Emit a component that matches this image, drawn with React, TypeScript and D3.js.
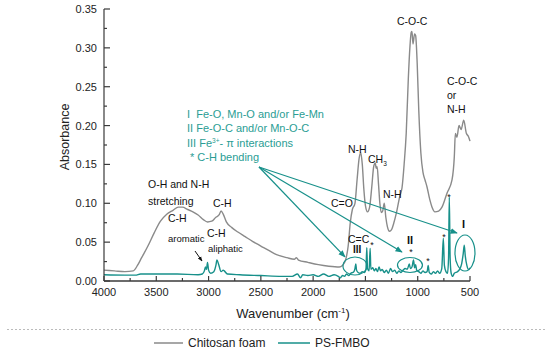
import * as d3 from 'd3'

// FTIR spectra, wavenumber (cm-1) vs absorbance
const chitosanWn = [
  4000, 3900, 3800, 3720, 3680, 3640, 3580, 3520, 3460, 3400, 3340, 3290, 3250, 3200, 3150, 3100, 3050,
  3010, 2970, 2930, 2900, 2880, 2860, 2830, 2780, 2720, 2650, 2580, 2500, 2420, 2350, 2250, 2180, 2160,
  2140, 2050, 1950, 1850, 1750, 1720, 1690, 1665, 1645, 1625, 1600, 1580, 1560, 1545, 1530, 1515, 1500,
  1480, 1460, 1440, 1420, 1405, 1398, 1388, 1375, 1362, 1348, 1335, 1320, 1305, 1290, 1270, 1250, 1230,
  1200, 1170, 1150, 1130, 1110, 1090, 1075, 1062, 1055, 1045, 1030, 1020, 1005, 990, 970, 950, 930, 911,
  885, 863, 835, 800, 768, 720, 672, 650, 640, 625, 605, 585, 560, 535, 515, 500,
]
const chitosanAbs = [
  0.014, 0.013, 0.012, 0.013, 0.02, 0.03, 0.045, 0.062, 0.077, 0.086, 0.091, 0.095, 0.095, 0.092, 0.089,
  0.085, 0.079, 0.076, 0.077, 0.082, 0.085, 0.09, 0.086, 0.076, 0.069, 0.063, 0.057, 0.051, 0.045, 0.039,
  0.034, 0.03, 0.028, 0.03, 0.027, 0.024, 0.021, 0.019, 0.018, 0.02, 0.027, 0.045, 0.075, 0.092, 0.1,
  0.13, 0.158, 0.165, 0.15, 0.118, 0.097, 0.089, 0.095, 0.12, 0.148, 0.152, 0.145, 0.147, 0.125, 0.1,
  0.088, 0.09, 0.1, 0.082, 0.07, 0.064, 0.066, 0.074, 0.09, 0.11, 0.12, 0.15, 0.19, 0.26, 0.3, 0.32,
  0.321, 0.305, 0.318, 0.316, 0.28, 0.22, 0.165, 0.14, 0.13, 0.121, 0.105, 0.095, 0.089, 0.09, 0.095,
  0.113, 0.13, 0.16, 0.19, 0.185, 0.2, 0.195, 0.207, 0.19, 0.186, 0.18,
]
const fmboWn = [
  4000, 3800, 3700, 3650, 3500, 3300, 3100, 3060, 3040, 3030, 3020, 3010, 3000, 2980, 2950, 2930, 2920,
  2905, 2880, 2860, 2850, 2820, 2700, 2500, 2300, 2200, 2150, 2120, 2100, 2050, 2000, 1950, 1900, 1850,
  1800, 1760, 1740, 1720, 1700, 1680, 1660, 1640, 1620, 1610, 1600, 1592, 1585, 1570, 1550, 1530, 1510,
  1495, 1487, 1480, 1465, 1455, 1448, 1430, 1415, 1400, 1385, 1370, 1355, 1340, 1320, 1300, 1280, 1260,
  1240, 1220, 1200, 1180, 1160, 1140, 1120, 1100, 1080, 1070, 1055, 1040, 1030, 1020, 1010, 990, 970,
  950, 930, 910, 900, 890, 870, 850, 830, 810, 790, 770, 755, 745, 730, 715, 705, 698, 690, 680, 665, 650,
  620, 600, 580, 565, 555, 545, 530, 515, 500,
]
const fmboAbs = [
  0.008, 0.0075, 0.0075, 0.009, 0.009, 0.009, 0.008, 0.009, 0.013, 0.018, 0.015, 0.024, 0.014, 0.01,
  0.012, 0.02, 0.027, 0.022, 0.012, 0.014, 0.013, 0.009, 0.008, 0.007, 0.006, 0.006, 0.009, 0.004,
  0.008, 0.007, 0.008, 0.006, 0.009, 0.006, 0.008, 0.006, 0.004, 0.007, 0.006, 0.009, 0.007, 0.01,
  0.011, 0.012, 0.016, 0.022, 0.014, 0.011, 0.01, 0.012, 0.011, 0.015, 0.043, 0.016, 0.013, 0.042,
  0.015, 0.017, 0.013, 0.016, 0.012, 0.018, 0.013, 0.015, 0.011, 0.014, 0.01, 0.016, 0.012, 0.014,
  0.01, 0.013, 0.011, 0.014, 0.016, 0.015, 0.022, 0.016, 0.018, 0.027, 0.017, 0.021, 0.014, 0.012,
  0.01, 0.013, 0.011, 0.012, 0.02, 0.011, 0.009, 0.012, 0.01, 0.013, 0.01, 0.016, 0.055, 0.02, 0.012,
  0.01, 0.03, 0.108, 0.03, 0.01, 0.006, 0.01, 0.012, 0.015, 0.022, 0.035, 0.046, 0.032, 0.02, 0.015,
  0.017,
]
const xTicks = [4000, 3500, 3000, 2500, 2000, 1500, 1000, 500]
const yTicks = [0, 0.05, 0.1, 0.15, 0.2, 0.25, 0.3, 0.35]

const TEAL = '#17908a'
const TEAL_TEXT = '#2a9d94'
const GRAY = '#8a8a8a'
const AXIS = '#3a3a3a'
const FONT = '"Liberation Sans", Arial, Helvetica, sans-serif'

const x = d3.scaleLinear().domain([4000, 500]).range([104, 470])
const y = d3.scaleLinear().domain([0, 0.35]).range([281, 9])

function spectrum(wn: number[], abs: number[]) {
  return (
    d3
      .line<number>()
      .x((_, i) => x(wn[i]))
      .y((d) => y(d))
      .curve(d3.curveMonotoneX)(abs) ?? ''
  )
}

// annotation arrows: source point and targets, in data units
const arrowFrom = { w: 2518, v: 0.1467 }
const arrowTo = [
  { w: 1695, v: 0.031 },
  { w: 1150, v: 0.0373 },
  { w: 624, v: 0.0618 },
]
const rings = [
  { w: 1600, v: 0.0193, rx: 12, ry: 9 },
  { w: 1074, v: 0.0206, rx: 12.5, ry: 7.5 },
  { w: 548, v: 0.036, rx: 10, ry: 18 },
]

export default function App() {
  const xMinor = d3.range(4000, 499, -250)
  const yMinor = d3.range(0, 0.3501, 0.025)
  const fx = x(arrowFrom.w)
  const fy = y(arrowFrom.v)

  return (
    <svg
      width={550}
      height={354}
      style={{ position: 'absolute', left: 0, top: 0, background: '#fff', fontFamily: FONT }}
    >
      <defs>
        <marker id="ah" viewBox="0 0 10 10" refX="9" refY="5" markerWidth="6" markerHeight="6" orient="auto">
          <path d="M0,1 L10,5 L0,9 z" fill={TEAL} />
        </marker>
        <marker id="ahk" viewBox="0 0 10 10" refX="9" refY="5" markerWidth="5" markerHeight="5" orient="auto">
          <path d="M0,1 L10,5 L0,9 z" fill="#111" />
        </marker>
      </defs>

      {/* spectra */}
      <path d={spectrum(chitosanWn, chitosanAbs)} fill="none" stroke={GRAY} strokeWidth={1.4} />
      <path d={spectrum(fmboWn, fmboAbs)} fill="none" stroke={TEAL} strokeWidth={1.4} />

      {/* axes */}
      <g stroke={AXIS} strokeWidth={1.2}>
        <line x1={x(4000)} x2={x(500)} y1={y(0)} y2={y(0)} strokeWidth={1.6} />
        <line x1={x(4000)} x2={x(4000)} y1={y(0)} y2={y(0.35)} />
        {xMinor.map((t) => (
          <line key={'xm' + t} x1={x(t)} x2={x(t)} y1={y(0)} y2={y(0) - (t % 500 === 0 ? 5 : 3)} />
        ))}
        {yMinor.map((t, i) => (
          <line key={'ym' + i} x1={x(4000)} x2={x(4000) + (i % 2 === 0 ? 6 : 3)} y1={y(t)} y2={y(t)} />
        ))}
      </g>
      <g fontSize={11} fill="#222">
        {xTicks.map((t) => (
          <text key={'xt' + t} x={x(t)} y={y(0) + 15} textAnchor="middle">
            {t}
          </text>
        ))}
        {yTicks.map((t) => (
          <text key={'yt' + t} x={x(4000) - 7} y={y(t) + 4} textAnchor="end">
            {t.toFixed(2)}
          </text>
        ))}
      </g>
      <text x={293} y={318} fontSize={13} textAnchor="middle" fill="#222">
        Wavenumber (cm<tspan dy={-5} fontSize={8}>-1</tspan>
        <tspan dy={5}>)</tspan>
      </text>
      <text transform="translate(69,137) rotate(-90)" fontSize={12.5} textAnchor="middle" fill="#222">
        Absorbance
      </text>

      {/* teal annotation arrows and rings */}
      {arrowTo.map((t, i) => (
        <line
          key={'ar' + i}
          x1={fx}
          y1={fy}
          x2={x(t.w)}
          y2={y(t.v)}
          stroke={TEAL}
          strokeWidth={1.2}
          markerEnd="url(#ah)"
        />
      ))}
      {rings.map((r, i) => (
        <ellipse key={'rg' + i} cx={x(r.w)} cy={y(r.v)} rx={r.rx} ry={r.ry} fill="none" stroke={TEAL} strokeWidth={1.2} />
      ))}

      <g fontSize={11} fill={TEAL_TEXT}>
        <text x={187} y={118}>I{'\u00a0\u00a0'}Fe-O, Mn-O and/or Fe-Mn</text>
        <text x={187} y={132}>II Fe-O-C and/or Mn-O-C</text>
        <text x={187} y={146.5}>
          III Fe<tspan dy={-4} fontSize={6.5}>3+</tspan>
          <tspan dy={4}>- π interactions</tspan>
        </text>
        <text x={190} y={161}>* C-H bending</text>
      </g>

      {/* black band labels */}
      <g fontSize={10.5} fill="#111">
        <text x={148} y={188}>O-H and N-H</text>
        <text x={148} y={205}>stretching</text>
        <text x={213} y={207}>C-H</text>
        <text x={168} y={222}>C-H</text>
        <text x={168} y={242} fontSize={9.5}>aromatic</text>
        <text x={207} y={237}>C-H</text>
        <text x={208} y={252} fontSize={9.5}>aliphatic</text>
        <text x={397} y={25}>C-O-C</text>
        <text x={447} y={85}>C-O-C</text>
        <text x={447} y={99}>or</text>
        <text x={447} y={113}>N-H</text>
        <text x={348} y={153}>N-H</text>
        <text x={368} y={163}>
          CH<tspan dy={3} fontSize={6.5}>3</tspan>
        </text>
        <text x={383} y={198}>N-H</text>
        <text x={331} y={207}>C=O</text>
        <text x={348} y={243}>C=C</text>
        <text x={353} y={253} fontWeight="bold" fontSize={10}>III</text>
        <text x={407} y={244} fontWeight="bold" fontSize={11}>II</text>
        <text x={462} y={228} fontWeight="bold" fontSize={11}>I</text>
        {[
          [372, 248],
          [411, 255],
          [428, 264],
          [444, 240],
          [449, 200],
        ].map(([sx, sy], i) => (
          <text key={'st' + i} x={sx} y={sy} fontSize={9} textAnchor="middle">
            *
          </text>
        ))}
      </g>
      <line x1={195} y1={251} x2={202} y2={261} stroke="#111" strokeWidth={1} markerEnd="url(#ahk)" />

      {/* separator + legend */}
      <line x1={7} x2={545} y1={329.5} y2={329.5} stroke="#bbb" strokeWidth={1} strokeDasharray="2,2" />
      <line x1={154} x2={183} y1={343} y2={343} stroke={GRAY} strokeWidth={1.5} />
      <text x={188} y={347} fontSize={12} fill="#222">Chitosan foam</text>
      <line x1={278} x2={310} y1={343} y2={343} stroke={TEAL} strokeWidth={1.5} />
      <text x={315} y={347} fontSize={12} fill="#222">PS-FMBO</text>
    </svg>
  )
}
